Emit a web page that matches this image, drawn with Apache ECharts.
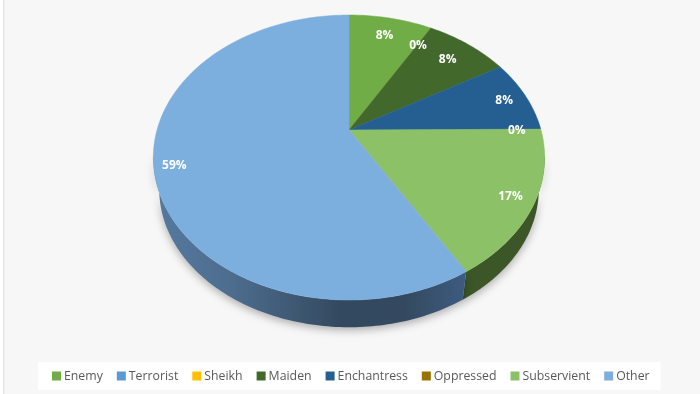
<!DOCTYPE html>
<html>
<head>
<meta charset="utf-8">
<style>html,body{margin:0;padding:0;background:#fff}#c{width:700px;height:394px}</style>
<script src="https://cdn.jsdelivr.net/npm/echarts@6/dist/echarts.min.js"></script>
</head>
<body>
<div id="c"></div>
<script>
const categories = ['Enemy','Terrorist','Sheikh','Maiden','Enchantress','Oppressed','Subservient','Other'];
const shares = [8.3,0,0,8.3,8.3,0,16.6,58.5];
const colors = ['#70ad47','#5b9bd5','#ffc000','#43682b','#255e91','#997300','#8cc168','#7cafdd'];

// Projection of the tilted disc (perspective) – layout only
const CX=349, CY=130, A=192, B=137.2, K=0.193;
const WALL_S=0.97, WALL_DY=31.5, WALL_PIVOT=157.5;
const WALL_FROM=100, WALL_TO=260;
const LABEL_R=[0.83,0.82,0.82,0.81,0.875,0.875,0.885,0.9];

const total = shares.reduce((a,b)=>a+b,0);
const starts = []; let acc=0;
shares.forEach(v=>{starts.push(acc/total*360); acc+=v;});

function proj(deg,r){
  const t=deg*Math.PI/180, d=1+K*r*Math.cos(t);
  return [CX+A*r*Math.sin(t)/d, CY-B*r*Math.cos(t)/d];
}
function lower(p){return [CX+WALL_S*(p[0]-CX), WALL_PIVOT+WALL_DY+WALL_S*(p[1]-WALL_PIVOT)];}
function arc(a0,a1,fn){
  const pts=[], n=Math.max(1,Math.ceil(Math.abs(a1-a0)));
  for(let i=0;i<=n;i++) pts.push(fn(a0+(a1-a0)*i/n));
  return pts;
}
const G=echarts.graphic;
const wallFill={
  6:'#3c5628',
  7:new G.LinearGradient(0,0,1,0,[
    {offset:0,color:'#55799f'},{offset:0.25,color:'#4d6d8e'},
    {offset:0.6,color:'#33495f'},{offset:0.8,color:'#34495f'},{offset:1,color:'#3d5c80'}])
};
function renderSlice(i){
  return function(params,api){
    const v=api.value(0), a0=starts[i], a1=a0+v/total*360;
    const kids=[];
    const w0=Math.max(a0,WALL_FROM), w1=Math.min(a1,WALL_TO);
    if(w1>w0 && wallFill[i]){
      const top=arc(w0,w1,a=>proj(a,1));
      const low=arc(w1,w0,a=>lower(proj(a,1)));
      kids.push({type:'polygon',z2:1,shape:{points:top.concat(low)},
        style:{fill:wallFill[i],shadowBlur:8,shadowColor:'rgba(0,0,0,0.3)',shadowOffsetY:3}});
    }
    if(v>0){
      kids.push({type:'polygon',z2:10,shape:{points:[[CX,CY]].concat(arc(a0,a1,a=>proj(a,1)))},
        style:{fill:colors[i],stroke:colors[i],lineWidth:0.5}});
    }
    if(!(v===0 && i>0 && shares[i-1]===0)){
      const p=proj((a0+a1)/2,LABEL_R[i]);
      kids.push({type:'text',z2:100,x:p[0],y:p[1]+1,
        style:{text:Math.round(v)+'%',fill:'#fff',align:'center',verticalAlign:'middle',
          font:'bold 12px "Open Sans"'}});
    }
    return {type:'group',children:kids};
  };
}
const chart=echarts.init(document.getElementById('c'),null,{renderer:'canvas'});
chart.setOption({
  animation:false,
  backgroundColor:'#fff',
  graphic:[
    {type:'rect',z:-10,silent:true,shape:{x:3,y:0,width:697,height:394},style:{fill:'#f7f7f7'}},
    {type:'rect',z:-9,silent:true,shape:{x:3,y:0,width:1.5,height:394},style:{fill:'#e6e6e6'}}
  ],
  legend:{
    data:categories,left:38,top:362,padding:[8,11,8,14],
    backgroundColor:'#fff',icon:'rect',itemWidth:9,itemHeight:9,itemGap:14,
    textStyle:{fontFamily:'"Open Sans"',fontSize:12.3,color:'#595959',padding:[0,0,0,-2]},
    selectedMode:false
  },
  series:categories.map((name,i)=>({
    type:'custom',name,coordinateSystem:'none',
    itemStyle:{color:colors[i]},
    silent:true,clip:false,
    data:[[shares[i]]],
    renderItem:renderSlice(i)
  }))
});
</script>
</body>
</html>
